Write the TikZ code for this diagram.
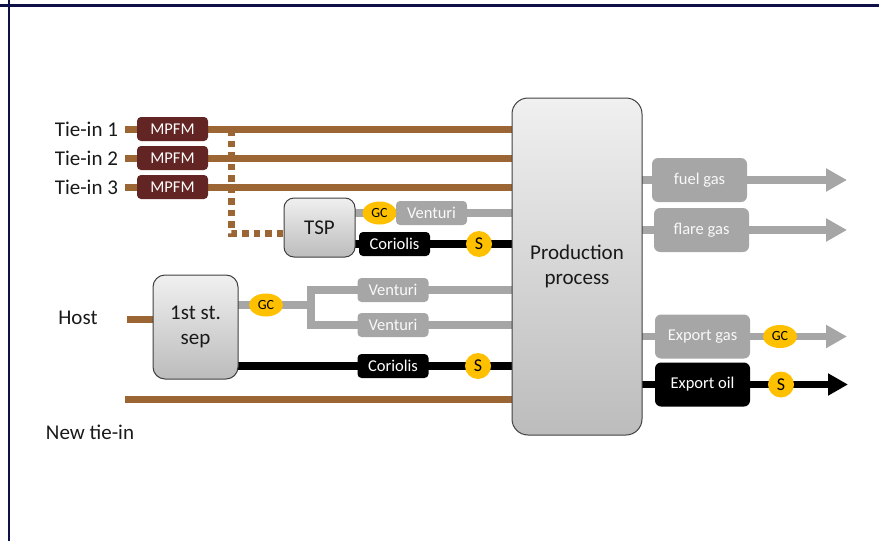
\documentclass[tikz,border=0pt]{standalone}
\usepackage{fontspec}
\setmainfont{Carlito}
\usetikzlibrary{arrows.meta,shapes.geometric}
\definecolor{pipebrown}{RGB}{156,102,52}
\definecolor{mpfmred}{RGB}{99,37,35}
\definecolor{gasgray}{RGB}{166,166,166}
\definecolor{meteryellow}{RGB}{255,192,0}
\definecolor{framenavy}{RGB}{16,16,72}
\definecolor{boxedge}{RGB}{64,64,64}
\definecolor{shadetop}{RGB}{240,240,240}
\definecolor{shadebot}{RGB}{188,188,188}
\pgfdeclarelayer{pipes}
\pgfsetlayers{pipes,main}

\begin{document}
\begin{tikzpicture}[x=1pt,y=-1pt,
  every node/.style={inner sep=0pt, outer sep=0pt},
  lbl/.style={font=\fontsize{21}{25}\selectfont, text=black!90},
  vessel/.style={draw=boxedge, line width=1pt, rounded corners=#1,
    top color=shadetop, bottom color=shadebot, align=center, lbl},
  meterbox/.style={rounded corners=4pt, minimum width=71pt, minimum height=24pt,
    font=\fontsize{16.5}{19}\selectfont},
  mpfm/.style={meterbox, fill=mpfmred, text=white},
  venturi/.style={meterbox, fill=gasgray, text=white!95!gray},
  coriolis/.style={meterbox, fill=black, text=white},
  outgas/.style={meterbox, rounded corners=6pt, minimum width=95pt, minimum height=44pt,
    font=\fontsize{16.5}{19}\selectfont, fill=gasgray, text=white!95!gray},
  outoil/.style={outgas, fill=black, text=white},
  gcmeter/.style={ellipse, fill=meteryellow, minimum width=34pt, minimum height=23pt,
    font=\fontsize{14}{16}\selectfont},
  smeter/.style={circle, fill=meteryellow, minimum size=26pt,
    font=\fontsize{18}{20}\selectfont},
  brownpipe/.style={draw=pipebrown, line width=7pt},
  dottedpipe/.style={draw=pipebrown, line width=7pt, dash pattern=on 6.5pt off 5pt},
  gaspipe/.style={draw=gasgray, line width=7.5pt, miter limit=10},
  oilpipe/.style={draw=black, line width=7.5pt},
  gasarrow/.style={gaspipe, -{Triangle[length=21pt,width=22pt]}},
  oilarrow/.style={oilpipe, -{Triangle[length=20pt,width=21pt]}},
]
\useasboundingbox (0,0) rectangle (879,541);

% page frame lines
\draw[framenavy, line width=3pt] (0,5.5) -- (879,5.5);
\draw[framenavy, line width=2.2pt] (8.7,0) -- (8.7,541);

% process units
\node[vessel=16pt, minimum width=130pt, minimum height=337pt] (prod) at (577,266.5) {Production\\process};
\node[vessel=10pt, minimum width=71pt, minimum height=59pt] (tsp) at (319.5,227.5) {TSP};
\node[vessel=12pt, minimum width=85pt, minimum height=104pt] (sep) at (195.5,327) {1st st.\\sep};

% tie-in labels and multiphase meters
\node[lbl, anchor=east] (tie1) at (118,129) {Tie-in 1};
\node[lbl, anchor=east] (tie2) at (118,158) {Tie-in 2};
\node[lbl, anchor=east] (tie3) at (118,187) {Tie-in 3};
\node[mpfm] (mpfm1) at (172.5,129) {MPFM};
\node[mpfm] (mpfm2) at (172.5,158) {MPFM};
\node[mpfm] (mpfm3) at (172.5,187) {MPFM};

% TSP outlet meters
\node[gcmeter] (gc1) at (379.5,213) {GC};
\node[venturi] (ven1) at (431.5,213) {Venturi};
\node[coriolis] (cor1) at (394.5,244) {Coriolis};
\node[smeter] (s1) at (479,244) {S};

% first stage separator
\node[lbl] (host) at (78,318) {Host};
\node[gcmeter] (gc2) at (266,305) {GC};
\node[venturi] (ven2) at (393,290) {Venturi};
\node[venturi] (ven3) at (393,325) {Venturi};
\node[coriolis] (cor2) at (393,366) {Coriolis};
\node[smeter] (s2) at (478,366) {S};

\node[lbl] (newtie) at (90,432) {New tie-in};

% outgoing streams
\node[outgas] (fuel) at (699.5,180) {fuel gas};
\node[outgas] (flare) at (701.5,230) {flare gas};
\node[outgas] (expgas) at (702.5,336.5) {Export gas};
\node[gcmeter] (gc3) at (780,336.5) {GC};
\node[outoil] (expoil) at (702.5,384.5) {Export oil};
\node[smeter] (s3) at (781,384.5) {S};

\coordinate (tap) at (231,129);
\coordinate (bend) at (231,233);
\coordinate (bustop) at (311,290);
\coordinate (busbot) at (311,325);
\coordinate (newstart) at (125,399);
\coordinate (fuelend) at (847,180);
\coordinate (flareend) at (847,230);
\coordinate (gasend) at (847,336.5);
\coordinate (oilend) at (848,384.5);

\begin{pgfonlayer}{pipes}
  % tie-in flowlines
  \draw[brownpipe] ([xshift=7pt]tie1.east) -- (tie1 -| prod.west);
  \draw[brownpipe] ([xshift=7pt]tie2.east) -- (tie2 -| prod.west);
  \draw[brownpipe] ([xshift=7pt]tie3.east) -- (tie3 -| prod.west);
  \draw[dottedpipe] (tap) -- (bend) -- (bend -| tsp.west);
  % TSP outlets
  \draw[gaspipe] (gc1 -| tsp.east) -- (gc1 -| prod.west);
  \draw[oilpipe] (cor1 -| tsp.east) -- (cor1 -| prod.west);
  % host and separator outlets
  \draw[brownpipe] ([xshift=29pt]host.east |- 0,319) -- (sep.west |- 0,319);
  \draw[gaspipe] (gc2 -| sep.east) -- (gc2 -| bustop);
  \draw[gaspipe] (bustop -| prod.west) -- (bustop) -- (busbot) -- (busbot -| prod.west);
  \draw[oilpipe] (cor2 -| sep.east) -- (cor2 -| prod.west);
  % new tie-in
  \draw[brownpipe] (newstart) -- (newstart -| prod.west);
  % export and utility lines
  \draw[gasarrow] (fuel -| prod.east) -- (fuelend);
  \draw[gasarrow] (flare -| prod.east) -- (flareend);
  \draw[gasarrow] (expgas -| prod.east) -- (gasend);
  \draw[oilarrow] (expoil -| prod.east) -- (oilend);
\end{pgfonlayer}
\end{tikzpicture}
\end{document}
